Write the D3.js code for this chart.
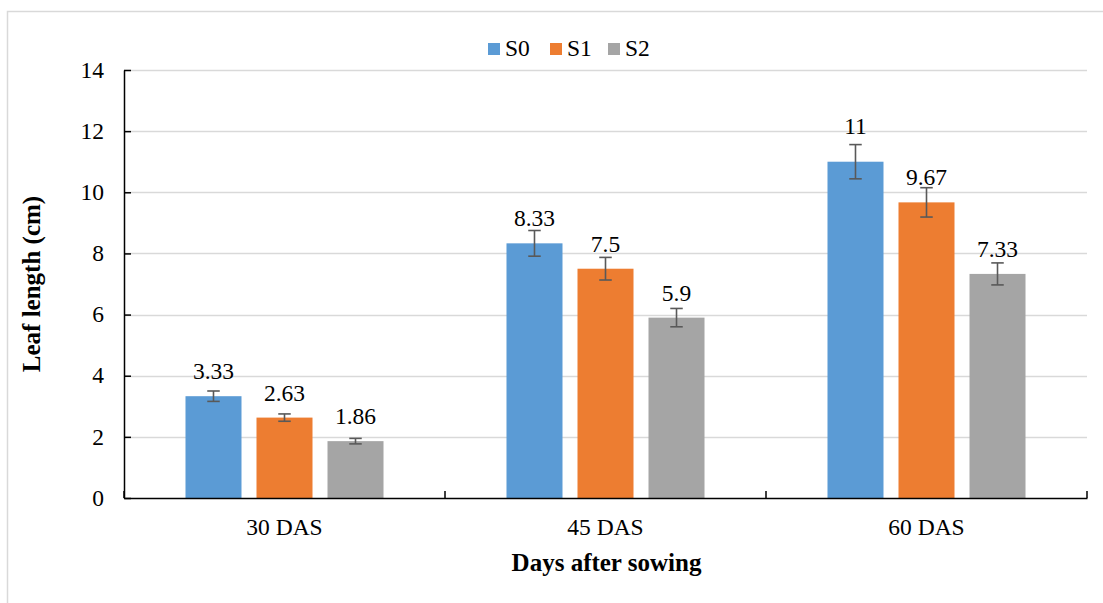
<!DOCTYPE html>
<html>
<head>
<meta charset="utf-8">
<script src="https://cdn.jsdelivr.net/npm/d3@7"></script>
<style>
  html, body { margin: 0; padding: 0; background: #fff; }
  svg { display: block; }
</style>
</head>
<body>
<svg id="chart" width="1103" height="603"></svg>
<script>
const categories = ["30 DAS", "45 DAS", "60 DAS"];
const seriesNames = ["S0", "S1", "S2"];
const seriesColors = ["#5b9bd5", "#ed7d31", "#a5a5a5"];
const S0 = [3.33, 8.33, 11];
const S1 = [2.63, 7.5, 9.67];
const S2 = [1.86, 5.9, 7.33];
const S0err = [0.17, 0.42, 0.56];
const S1err = [0.12, 0.37, 0.48];
const S2err = [0.09, 0.30, 0.36];
const yTicks = [0, 2, 4, 6, 8, 10, 12, 14];
const xTitle = "Days after sowing";
const yTitle = "Leaf length (cm)";

const values = [S0, S1, S2];
const errs = [S0err, S1err, S2err];
const FONT = "'Liberation Serif'";

const svg = d3.select("#chart");
const plot = { left: 124, right: 1087, top: 70, bottom: 498 };

// outer chart border (light gray)
svg.append("rect")
  .attr("x", 7.5).attr("y", 11.5)
  .attr("width", 1110).attr("height", 620)
  .attr("fill", "none").attr("stroke", "#d9d9d9").attr("stroke-width", 1.5);

const y = d3.scaleLinear().domain([0, 14]).range([plot.bottom, plot.top]);
const x0 = d3.scaleBand().domain(categories).range([plot.left, plot.right]).padding(0);
const x1 = d3.scaleBand().domain(seriesNames).range([0, x0.bandwidth()])
  .paddingInner(0.2113).paddingOuter(0.866);

// gridlines
svg.append("g").selectAll("line").data(yTicks.filter(d => d > 0)).join("line")
  .attr("x1", plot.left).attr("x2", plot.right)
  .attr("y1", d => Math.round(y(d)) + 0.5).attr("y2", d => Math.round(y(d)) + 0.5)
  .attr("stroke", "#d9d9d9").attr("stroke-width", 1.5);

// bars
const data = [];
categories.forEach((c, i) => {
  seriesNames.forEach((s, j) => {
    data.push({ cat: c, ser: s, v: values[j][i], e: errs[j][i], color: seriesColors[j] });
  });
});

svg.append("g").selectAll("rect").data(data).join("rect")
  .attr("x", d => x0(d.cat) + x1(d.ser))
  .attr("y", d => y(d.v))
  .attr("width", x1.bandwidth())
  .attr("height", d => y(0) - y(d.v))
  .attr("fill", d => d.color);

// error bars
const eg = svg.append("g").attr("stroke", "#595959").attr("stroke-width", 1.6);
const capW = 12.5;
data.forEach(d => {
  const cx = x0(d.cat) + x1(d.ser) + x1.bandwidth() / 2;
  eg.append("line").attr("x1", cx).attr("x2", cx).attr("y1", y(d.v + d.e)).attr("y2", y(d.v - d.e));
  eg.append("line").attr("x1", cx - capW / 2).attr("x2", cx + capW / 2).attr("y1", y(d.v + d.e)).attr("y2", y(d.v + d.e));
  eg.append("line").attr("x1", cx - capW / 2).attr("x2", cx + capW / 2).attr("y1", y(d.v - d.e)).attr("y2", y(d.v - d.e));
});

// helper: text appended directly to the svg root
function addText(xp, yp, str, opts = {}) {
  const t = svg.append("text")
    .attr("x", xp).attr("y", yp)
    .attr("text-anchor", opts.anchor || "start")
    .style("font-family", FONT)
    .style("font-size", (opts.size || 23) + "px")
    .style("fill", "#000")
    .text(str);
  if (opts.bold) t.style("font-weight", "bold");
  if (opts.dy) t.attr("dy", opts.dy);
  if (opts.transform) t.attr("transform", opts.transform);
  return t;
}

// data labels
data.forEach(d => {
  const cx = x0(d.cat) + x1(d.ser) + x1.bandwidth() / 2;
  const errPx = y(d.v) - y(d.v + d.e);
  const ly = errPx > 15 ? y(d.v + d.e) - 11 : y(d.v) - 17;
  addText(cx, ly, String(d.v), { anchor: "middle", size: 23.5 });
});

// y axis (line + inside ticks from d3 axis; labels drawn from the same scale)
const yAxis = d3.axisLeft(y).tickValues(yTicks).tickFormat("")
  .tickSizeInner(-7).tickSizeOuter(0);
const gy = svg.append("g").attr("transform", `translate(${plot.left},0)`).call(yAxis);
gy.select(".domain").attr("stroke", "#000").attr("stroke-width", 1.5);
gy.selectAll(".tick line").attr("stroke", "#000").attr("stroke-width", 1.5);
gy.selectAll(".tick text").remove();
yTicks.forEach(t => addText(plot.left - 20, y(t), d3.format("d")(t), { anchor: "end", size: 23.5, dy: "0.33em" }));

// x axis
const xAxis = d3.axisBottom(x0).tickSize(0).tickFormat("");
const gx = svg.append("g").attr("transform", `translate(0,${plot.bottom})`).call(xAxis);
gx.select(".domain").attr("stroke", "#000").attr("stroke-width", 1.5);
gx.selectAll(".tick text").remove();
const bounds = categories.map(c => x0(c)).concat([x0(categories[categories.length - 1]) + x0.bandwidth()]);
gx.selectAll("line.bound").data(bounds).join("line").attr("class", "bound")
  .attr("x1", d => d).attr("x2", d => d).attr("y1", 0).attr("y2", -7)
  .attr("stroke", "#000").attr("stroke-width", 1.5);
categories.forEach(c => addText(x0(c) + x0.bandwidth() / 2, plot.bottom + 20, c, { anchor: "middle", size: 23.5, dy: "0.71em" }));

// axis titles
addText((plot.left + plot.right) / 2 + 1, 571, xTitle, { anchor: "middle", size: 25, bold: true });
addText(0, 0, yTitle, { anchor: "middle", size: 25, bold: true,
  transform: `translate(40,${(plot.top + plot.bottom) / 2}) rotate(-90)` });

// legend
const legX = [488, 550, 608];
seriesNames.forEach((s, j) => {
  svg.append("rect").attr("x", legX[j]).attr("y", 43).attr("width", 12).attr("height", 12).attr("fill", seriesColors[j]);
  addText(legX[j] + 17, 55.5, s, { size: 23.5 });
});
</script>
</body>
</html>
